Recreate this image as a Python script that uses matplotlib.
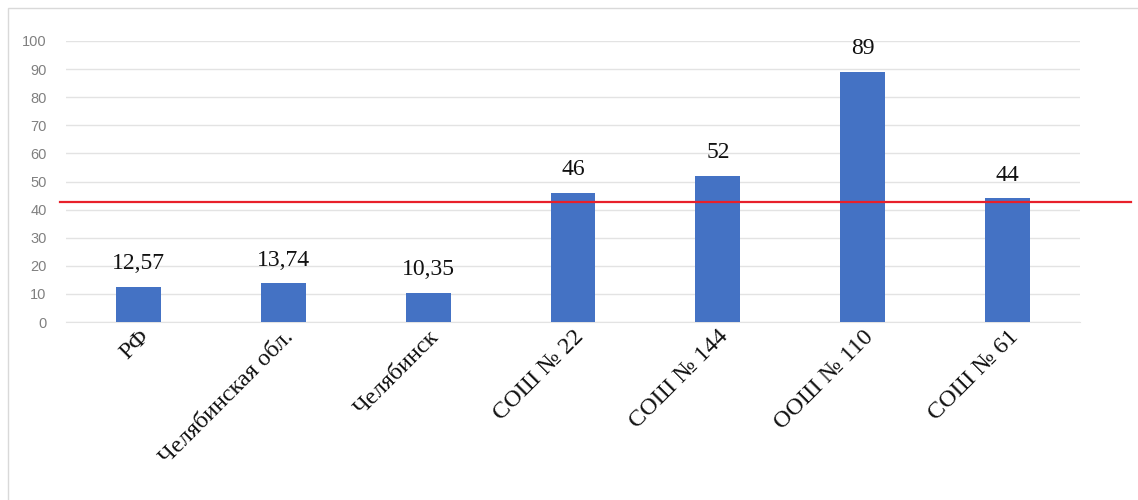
import matplotlib
matplotlib.use("Agg")
import matplotlib.pyplot as plt
from matplotlib.patches import Rectangle

categories = ["РФ", "Челябинская обл.", "Челябинск", "СОШ № 22", "СОШ № 144", "ООШ № 110", "СОШ № 61"]
values = [12.57, 13.74, 10.35, 46, 52, 89, 44]
labels = ["12,57", "13,74", "10,35", "46", "52", "89", "44"]
threshold = 42.7
yticks = list(range(0, 101, 10))

fig = plt.figure(figsize=(11.38, 5.0), dpi=100)
ax = fig.add_axes([0.058, 0.356, 0.891, 0.562])

x = list(range(len(categories)))
ax.bar(x, values, width=0.31, color="#4472C4", zorder=3)
for xi, v, lab in zip(x, values, labels):
    ax.text(xi, v + 6.3, lab, ha="center", va="baseline", fontsize=17,
            family="Liberation Serif", color="#111111")

ax.axhline(threshold, xmin=-0.006, xmax=1.05, color="#E8202A", lw=1.6,
           zorder=4, clip_on=False)

ax.set_xlim(-0.5, 6.5)
ax.set_ylim(0, 100)
ax.set_yticks(yticks)
ax.set_yticklabels([str(t) for t in yticks], fontsize=10.5, color="#808080",
                   family="Liberation Sans")
ax.yaxis.grid(True, color="#e3e3e3", lw=1, zorder=0)
ax.set_xticks(x)
ax.set_xticklabels(categories, rotation=45, ha="right", rotation_mode="anchor",
                   fontsize=17.5, family="Liberation Serif", color="#111111")
ax.tick_params(axis="both", length=0)
ax.tick_params(axis="y", pad=14)
ax.tick_params(axis="x", pad=3)
for s in ax.spines.values():
    s.set_visible(False)
ax.spines["bottom"].set_visible(True)
ax.spines["bottom"].set_color("#e3e3e3")

fig.patches.append(Rectangle((8 / 1138, -0.01), 1.02, 1 - 8 / 500 + 0.01,
                             transform=fig.transFigure, fill=False,
                             edgecolor="#d9d9d9", lw=1))

fig.savefig("out.png", dpi=100)
